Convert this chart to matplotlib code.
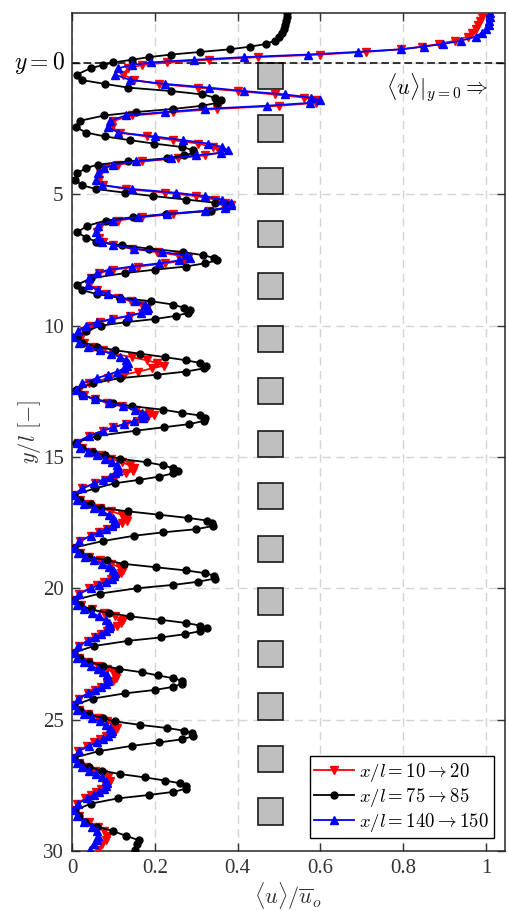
import matplotlib
matplotlib.use("Agg")
import matplotlib.pyplot as plt
from matplotlib.patches import Rectangle

plt.rcParams['font.family'] = ['Liberation Serif', 'DejaVu Serif']
plt.rcParams['mathtext.fontset'] = 'cm'

# wall-normal positions y/l (shared by the three profiles)
y_l = [
    -1.9, -1.75, -1.6, -1.45, -1.3, -1.15, -1.0, -0.85, -0.72, -0.62, -0.52, -0.42, -0.32, -0.22, -0.12, -0.02, 0.08, 0.2,
    0.45, 0.65, 0.8, 0.94, 1.07, 1.2, 1.32, 1.42, 1.52, 1.63, 1.75, 1.87, 2.0, 2.2,
    2.45, 2.65, 2.8, 2.94, 3.07, 3.2, 3.32, 3.42, 3.52, 3.63, 3.75, 3.87, 4.0, 4.2,
    4.45, 4.65, 4.8, 4.94, 5.07, 5.2, 5.32, 5.42, 5.52, 5.63, 5.75, 5.87, 6.0, 6.2,
    6.45, 6.65, 6.8, 6.94, 7.07, 7.2, 7.32, 7.42, 7.52, 7.63, 7.75, 7.87, 8.0, 8.2,
    8.45, 8.65, 8.8, 8.94, 9.07, 9.2, 9.32, 9.42, 9.52, 9.63, 9.75, 9.87, 10.0, 10.2,
    10.45, 10.65, 10.8, 10.94, 11.07, 11.2, 11.32, 11.42, 11.52, 11.63, 11.75, 11.87, 12.0, 12.2,
    12.45, 12.65, 12.8, 12.94, 13.07, 13.2, 13.32, 13.42, 13.52, 13.63, 13.75, 13.87, 14.0, 14.2,
    14.45, 14.65, 14.8, 14.94, 15.07, 15.2, 15.32, 15.42, 15.52, 15.63, 15.75, 15.87, 16.0, 16.2,
    16.45, 16.65, 16.8, 16.94, 17.07, 17.2, 17.32, 17.42, 17.52, 17.63, 17.75, 17.87, 18.0, 18.2,
    18.45, 18.65, 18.8, 18.94, 19.07, 19.2, 19.32, 19.42, 19.52, 19.63, 19.75, 19.87, 20.0, 20.2,
    20.45, 20.65, 20.8, 20.94, 21.07, 21.2, 21.32, 21.42, 21.52, 21.63, 21.75, 21.87, 22.0, 22.2,
    22.45, 22.65, 22.8, 22.94, 23.07, 23.2, 23.32, 23.42, 23.52, 23.63, 23.75, 23.87, 24.0, 24.2,
    24.45, 24.65, 24.8, 24.94, 25.07, 25.2, 25.32, 25.42, 25.52, 25.63, 25.75, 25.87, 26.0, 26.2,
    26.45, 26.65, 26.8, 26.94, 27.07, 27.2, 27.32, 27.42, 27.52, 27.63, 27.75, 27.87, 28.0, 28.2,
    28.45, 28.68, 28.88, 29.07, 29.25, 29.42, 29.6, 29.75, 29.95,
]

# <u>/u_o at x/l = 10 -> 20
u_10_20 = [
    0.99, 0.99, 0.985, 0.98, 0.975, 0.965, 0.955, 0.925, 0.885, 0.845, 0.795, 0.71, 0.6, 0.45, 0.33, 0.23, 0.17, 0.135,
    0.124, 0.15, 0.21, 0.305, 0.4, 0.49, 0.56, 0.59, 0.59, 0.5, 0.35, 0.245, 0.145, 0.1,
    0.097, 0.115, 0.18, 0.245, 0.305, 0.34, 0.355, 0.358, 0.32, 0.255, 0.17, 0.11, 0.08, 0.068,
    0.065, 0.075, 0.13, 0.225, 0.3, 0.345, 0.37, 0.383, 0.37, 0.33, 0.245, 0.17, 0.11, 0.068,
    0.06, 0.066, 0.076, 0.1, 0.145, 0.205, 0.255, 0.28, 0.27, 0.225, 0.16, 0.1, 0.065, 0.045,
    0.042, 0.06, 0.082, 0.11, 0.142, 0.168, 0.18, 0.178, 0.168, 0.14, 0.1, 0.068, 0.045, 0.028,
    0.022, 0.03, 0.05, 0.075, 0.1, 0.145, 0.18, 0.205, 0.222, 0.193, 0.16, 0.125, 0.088, 0.04,
    0.018, 0.03, 0.055, 0.085, 0.12, 0.155, 0.185, 0.197, 0.18, 0.158, 0.13, 0.1, 0.075, 0.04,
    0.015, 0.025, 0.045, 0.07, 0.095, 0.12, 0.14, 0.15, 0.148, 0.13, 0.105, 0.08, 0.055, 0.025,
    0.008, 0.02, 0.042, 0.068, 0.095, 0.12, 0.134, 0.132, 0.12, 0.105, 0.085, 0.065, 0.045, 0.02,
    0.008, 0.02, 0.042, 0.068, 0.095, 0.115, 0.122, 0.118, 0.108, 0.095, 0.078, 0.06, 0.042, 0.018,
    0.008, 0.022, 0.048, 0.078, 0.105, 0.122, 0.118, 0.108, 0.097, 0.085, 0.07, 0.055, 0.038, 0.016,
    0.006, 0.018, 0.038, 0.062, 0.085, 0.1, 0.107, 0.106, 0.098, 0.085, 0.07, 0.055, 0.038, 0.016,
    0.006, 0.018, 0.038, 0.062, 0.085, 0.1, 0.108, 0.105, 0.096, 0.083, 0.068, 0.053, 0.036, 0.015,
    0.005, 0.016, 0.034, 0.055, 0.075, 0.088, 0.092, 0.089, 0.081, 0.07, 0.057, 0.045, 0.032, 0.013,
    0.004, 0.016, 0.04, 0.062, 0.078, 0.085, 0.082, 0.072, 0.064,
]

# <u>/u_o at x/l = 75 -> 85
u_75_85 = [
    0.518, 0.518, 0.517, 0.515, 0.513, 0.507, 0.5, 0.49, 0.468, 0.43, 0.382, 0.31, 0.24, 0.185, 0.145, 0.1, 0.075, 0.045,
    0.011, 0.023, 0.08, 0.136, 0.24, 0.315, 0.345, 0.36, 0.35, 0.315, 0.245, 0.155, 0.078, 0.02,
    0.01, 0.034, 0.08, 0.14, 0.198, 0.265, 0.293, 0.295, 0.27, 0.23, 0.135, 0.062, 0.035, 0.012,
    0.008, 0.023, 0.058, 0.128, 0.196, 0.275, 0.345, 0.374, 0.372, 0.335, 0.228, 0.148, 0.082, 0.037,
    0.012, 0.035, 0.058, 0.12, 0.187, 0.268, 0.317, 0.343, 0.35, 0.32, 0.275, 0.2, 0.128, 0.045,
    0.012, 0.025, 0.06, 0.115, 0.19, 0.245, 0.27, 0.285, 0.28, 0.25, 0.2, 0.13, 0.07, 0.035,
    0.012, 0.025, 0.06, 0.105, 0.165, 0.225, 0.275, 0.309, 0.323, 0.318, 0.275, 0.205, 0.115, 0.05,
    0.01, 0.025, 0.055, 0.1, 0.145, 0.22, 0.265, 0.308, 0.32, 0.318, 0.283, 0.222, 0.155, 0.06,
    0.01, 0.025, 0.05, 0.08, 0.115, 0.18, 0.22, 0.243, 0.257, 0.243, 0.21, 0.163, 0.104, 0.055,
    0.005, 0.02, 0.045, 0.07, 0.135, 0.21, 0.28, 0.325, 0.338, 0.34, 0.3, 0.22, 0.15, 0.075,
    0.005, 0.02, 0.04, 0.085, 0.125, 0.204, 0.275, 0.32, 0.343, 0.345, 0.305, 0.245, 0.156, 0.068,
    0.005, 0.02, 0.045, 0.09, 0.14, 0.215, 0.275, 0.31, 0.326, 0.31, 0.272, 0.215, 0.136, 0.052,
    0.005, 0.02, 0.04, 0.075, 0.113, 0.17, 0.208, 0.243, 0.266, 0.265, 0.245, 0.2, 0.128, 0.05,
    0.005, 0.02, 0.04, 0.075, 0.105, 0.164, 0.23, 0.27, 0.29, 0.293, 0.265, 0.21, 0.144, 0.065,
    0.005, 0.02, 0.04, 0.072, 0.115, 0.176, 0.225, 0.26, 0.275, 0.275, 0.245, 0.185, 0.11, 0.045,
    0.008, 0.018, 0.031, 0.06, 0.1, 0.13, 0.163, 0.158, 0.152,
]

# <u>/u_o at x/l = 140 -> 150
u_140_150 = [
    1.01, 1.01, 1.008, 1.006, 1.0, 0.99, 0.975, 0.94, 0.895, 0.849, 0.795, 0.69, 0.57, 0.415, 0.295, 0.19, 0.144, 0.112,
    0.105, 0.14, 0.225, 0.33, 0.415, 0.515, 0.578, 0.598, 0.575, 0.47, 0.32, 0.225, 0.13, 0.092,
    0.086, 0.112, 0.2, 0.268, 0.329, 0.362, 0.376, 0.36, 0.3, 0.24, 0.155, 0.1, 0.078, 0.062,
    0.058, 0.072, 0.145, 0.25, 0.321, 0.362, 0.385, 0.385, 0.37, 0.32, 0.23, 0.16, 0.1, 0.062,
    0.057, 0.062, 0.072, 0.1, 0.15, 0.218, 0.275, 0.285, 0.258, 0.21, 0.145, 0.09, 0.06, 0.042,
    0.038, 0.064, 0.088, 0.118, 0.152, 0.176, 0.184, 0.18, 0.166, 0.135, 0.095, 0.06, 0.035, 0.015,
    0.003, 0.016, 0.039, 0.067, 0.094, 0.117, 0.131, 0.136, 0.134, 0.126, 0.109, 0.087, 0.06, 0.025,
    0.01, 0.026, 0.055, 0.09, 0.124, 0.152, 0.169, 0.176, 0.172, 0.15, 0.125, 0.1, 0.075, 0.04,
    0.011, 0.02, 0.039, 0.06, 0.08, 0.097, 0.108, 0.112, 0.111, 0.104, 0.091, 0.074, 0.054, 0.025,
    0.003, 0.013, 0.03, 0.052, 0.072, 0.089, 0.1, 0.104, 0.103, 0.096, 0.083, 0.066, 0.046, 0.018,
    0.004, 0.014, 0.032, 0.053, 0.073, 0.09, 0.1, 0.104, 0.102, 0.096, 0.083, 0.066, 0.046, 0.018,
    0.004, 0.013, 0.029, 0.048, 0.066, 0.081, 0.09, 0.092, 0.089, 0.082, 0.07, 0.055, 0.038, 0.015,
    0.004, 0.012, 0.028, 0.045, 0.062, 0.076, 0.085, 0.088, 0.087, 0.081, 0.07, 0.056, 0.039, 0.015,
    0.003, 0.012, 0.028, 0.048, 0.067, 0.083, 0.092, 0.096, 0.095, 0.088, 0.076, 0.06, 0.042, 0.016,
    0.003, 0.011, 0.025, 0.042, 0.058, 0.072, 0.081, 0.084, 0.083, 0.077, 0.066, 0.052, 0.036, 0.014,
    0.003, 0.012, 0.03, 0.048, 0.06, 0.064, 0.06, 0.052, 0.043,
]

# square obstacles: top edge y/l, spanning <u>/u_o = 0.45 .. 0.51
obstacle_top = [0, 2, 4, 6, 8, 10, 12, 14, 16, 18, 20, 22, 24, 26, 28]
obstacle_x = 0.45
obstacle_size = 0.06

x_ticks = [0, 0.2, 0.4, 0.6, 0.8, 1]
x_ticklabels = ['0', '0.2', '0.4', '0.6', '0.8', '1']
y_ticks = [0, 5, 10, 15, 20, 25, 30]
y_ticklabels = ['', '5', '10', '15', '20', '25', '30']

dark = '#333333'

fig = plt.figure(figsize=(5.08, 9.11), dpi=100)
ax = fig.add_axes([0.1417, 0.0659, 0.852, 0.9198])

for yt in obstacle_top:
    ax.add_patch(Rectangle((obstacle_x, yt), obstacle_size, 1.0, facecolor='#bfbfbf',
                           edgecolor='#1a1a1a', lw=1.2, zorder=1))

ax.axhline(0, color='k', ls=(0, (5, 2.5)), lw=1.1, zorder=2)

ax.plot(u_10_20, y_l, color='red', marker='v', ms=6, lw=1.3,
        label=r'$x/l=10\rightarrow20$', zorder=3)
ax.plot(u_75_85, y_l, color='black', marker='o', ms=5, lw=1.3,
        label=r'$x/l=75\rightarrow85$', zorder=4)
ax.plot(u_140_150, y_l, color='blue', marker='^', ms=6, lw=1.3,
        label=r'$x/l=140\rightarrow150$', zorder=5)

ax.set_xlim(0, 1.045)
ax.set_ylim(30, -1.9)
ax.set_xticks(x_ticks)
ax.set_xticklabels(x_ticklabels)
ax.set_yticks(y_ticks)
ax.set_yticklabels(y_ticklabels)

ax.grid(True, color='#d4d4d4', ls=(0, (6, 4)), lw=1.0)
ax.set_axisbelow(True)
ax.tick_params(direction='in', length=6, width=1.0, top=True, right=True,
               labelsize=15, colors=dark, pad=6)
for s in ax.spines.values():
    s.set_color('#262626')
    s.set_linewidth(1.1)

ax.set_xlabel(r'$\langle u\rangle/\overline{u}_o$', fontsize=16, color=dark, labelpad=1)
ax.set_ylabel(r'$y/l\ [-]$', fontsize=16, color=dark, labelpad=0)

ax.text(-0.015, 0, r'$y=0$', transform=ax.get_yaxis_transform(), ha='right', va='center',
        fontsize=17, color='black')
ax.text(1.005, 0.95, r'$\langle u\rangle|_{y=0}\Rightarrow$', ha='right', va='center',
        fontsize=16, color='black')

leg = ax.legend(loc='lower right', bbox_to_anchor=(0.974, 0.015), borderaxespad=0,
                fontsize=13.5, frameon=True, fancybox=False, framealpha=1, edgecolor='black',
                handlelength=2.1, handletextpad=0.3, labelspacing=0.1, borderpad=0.25)
leg.get_frame().set_linewidth(1.0)

fig.savefig('out.png', dpi=100)
